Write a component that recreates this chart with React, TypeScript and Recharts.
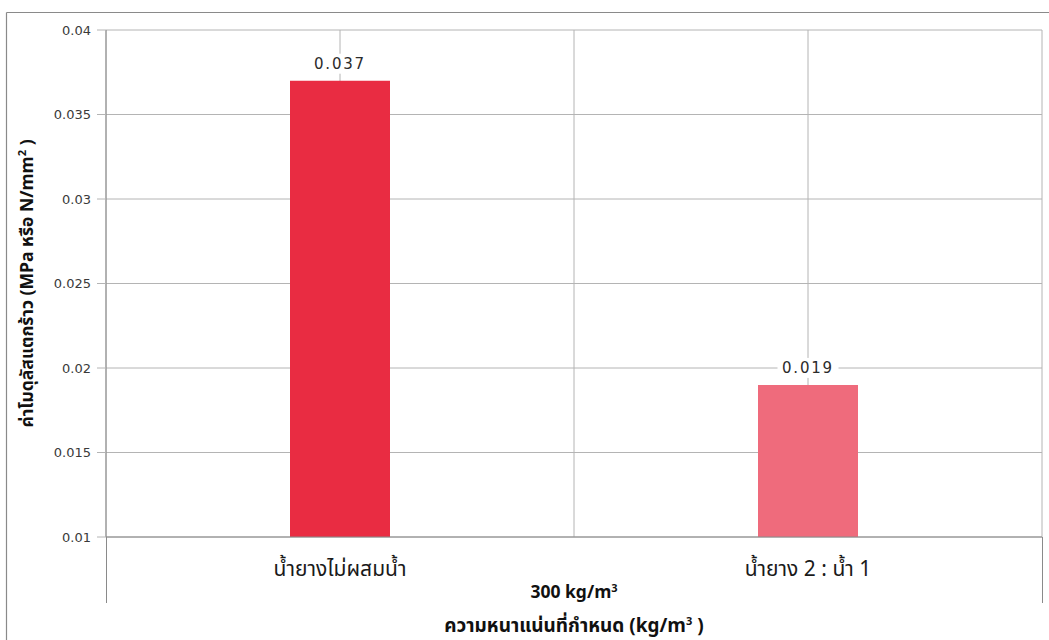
import React from 'react';
import { BarChart, Bar, XAxis, YAxis, CartesianGrid, Cell, LabelList } from 'recharts';

// Modulus of rupture by mix, at a target density of 300 kg/m³
const categories = ['น้ำยางไม่ผสมน้ำ', 'น้ำยาง 2 : น้ำ 1'];
const modulusValues = [0.037, 0.019];
const barColors = ['#E92C42', '#EF6B7C'];
const yTicks = [0.01, 0.015, 0.02, 0.025, 0.03, 0.035, 0.04];
const yDomain: [number, number] = [0.01, 0.04];

const data = categories.map((name, i) => ({ name, value: modulusValues[i] }));

// Layout
const W = 1049;
const H = 640;
const PLOT_LEFT = 106;
const PLOT_TOP = 30;
const PLOT_RIGHT = 1042;
const PLOT_BOTTOM = 537;
const GRID = '#b4b4b4';
const AXIS = '#8a8a8a';
const THAI_FONT = "'Noto Sans Thai', 'Noto Sans Thai Looped', Tahoma, 'DejaVu Sans', sans-serif";

const CategoryTick = (props: any) => {
  const { x, y, payload } = props;
  return (
    <text x={x} y={y + 31} textAnchor="middle" fontFamily={THAI_FONT} fontSize={21} fill="#1a1a1a">
      {payload.value}
    </text>
  );
};

const ValueLabel = (props: any) => {
  const { x, y, width, value } = props;
  const cx = x + width / 2;
  const cy = y - 17;
  const text = String(value);
  const w = text.length * 11 + 6;
  return (
    <g>
      <rect x={cx - w / 2} y={cy - 10} width={w} height={20} fill="#ffffff" />
      <text
        x={cx}
        y={cy}
        textAnchor="middle"
        dominantBaseline="central"
        fontFamily="'DejaVu Sans', sans-serif"
        fontSize={15}
        letterSpacing={1.8}
        fill="#2b2b2b"
      >
        {text}
      </text>
    </g>
  );
};

export default function App() {
  const plotW = PLOT_RIGHT - PLOT_LEFT;
  return (
    <div style={{ position: 'absolute', left: 0, top: 0, width: W, height: H, overflow: 'hidden', background: '#fff' }}>
      <BarChart
        width={W}
        height={H}
        data={data}
        margin={{ top: PLOT_TOP, right: W - PLOT_RIGHT, left: 0, bottom: 0 }}
        barSize={100}
      >
        <CartesianGrid
          stroke={GRID}
          horizontal={true}
          vertical={true}
          verticalCoordinatesGenerator={({ offset }: any) => {
            const n = categories.length * 2;
            return Array.from({ length: n + 1 }, (_, i) => offset.left + (offset.width * i) / n);
          }}
        />
        <XAxis
          dataKey="name"
          height={H - PLOT_BOTTOM}
          tickLine={false}
          axisLine={{ stroke: AXIS }}
          tick={<CategoryTick />}
          interval={0}
        />
        <YAxis
          width={PLOT_LEFT}
          domain={yDomain}
          ticks={yTicks}
          allowDataOverflow
          tickSize={9}
          tickMargin={6}
          tickLine={{ stroke: GRID }}
          axisLine={{ stroke: AXIS }}
          tickFormatter={(v: number) => String(v)}
          tick={{ fontFamily: "'DejaVu Sans', sans-serif", fontSize: 13, fill: '#3a3a3a' }}
        />
        <Bar dataKey="value" isAnimationActive={false}>
          {data.map((_, i) => (
            <Cell key={i} fill={barColors[i]} />
          ))}
          <LabelList dataKey="value" content={<ValueLabel />} />
        </Bar>
      </BarChart>

      <svg width={W} height={H} style={{ position: 'absolute', left: 0, top: 0, pointerEvents: 'none' }}>
        {/* outer frame */}
        <line x1={6.5} y1={12.5} x2={W} y2={12.5} stroke={AXIS} strokeWidth={1.2} />
        <line x1={6.5} y1={12.5} x2={6.5} y2={H} stroke={AXIS} strokeWidth={1.2} />
        {/* category-axis group boundaries */}
        <line x1={PLOT_LEFT + 0.5} y1={PLOT_BOTTOM} x2={PLOT_LEFT + 0.5} y2={603} stroke={AXIS} />
        <line x1={PLOT_RIGHT + 0.5} y1={PLOT_BOTTOM} x2={PLOT_RIGHT + 0.5} y2={603} stroke={AXIS} />

        {/* group label and axis title */}
        <text
          x={PLOT_LEFT + plotW / 2}
          y={598}
          textAnchor="middle"
          fontFamily={THAI_FONT}
          fontWeight="bold"
          fontSize={17.5}
          fill="#111"
        >
          300 kg/m<tspan dy={-6} fontSize={11}>3</tspan>
        </text>
        <text
          x={PLOT_LEFT + plotW / 2}
          y={632}
          textAnchor="middle"
          fontFamily={THAI_FONT}
          fontWeight="bold"
          fontSize={19}
          fill="#111"
        >
          ความหนาแน่นที่กำหนด (kg/m<tspan dy={-7} fontSize={11}>3</tspan>
          <tspan dy={7}> )</tspan>
        </text>
        <text
          transform={`translate(33, ${PLOT_TOP + (PLOT_BOTTOM - PLOT_TOP) / 2}) rotate(-90)`}
          textAnchor="middle"
          fontFamily={THAI_FONT}
          fontWeight="bold"
          fontSize={17.5}
          fill="#111"
        >
          ค่าโมดุลัสแตกร้าว (MPa หรือ N/mm<tspan dy={-7} fontSize={11}>2</tspan>
          <tspan dy={7}> )</tspan>
        </text>
      </svg>
    </div>
  );
}
